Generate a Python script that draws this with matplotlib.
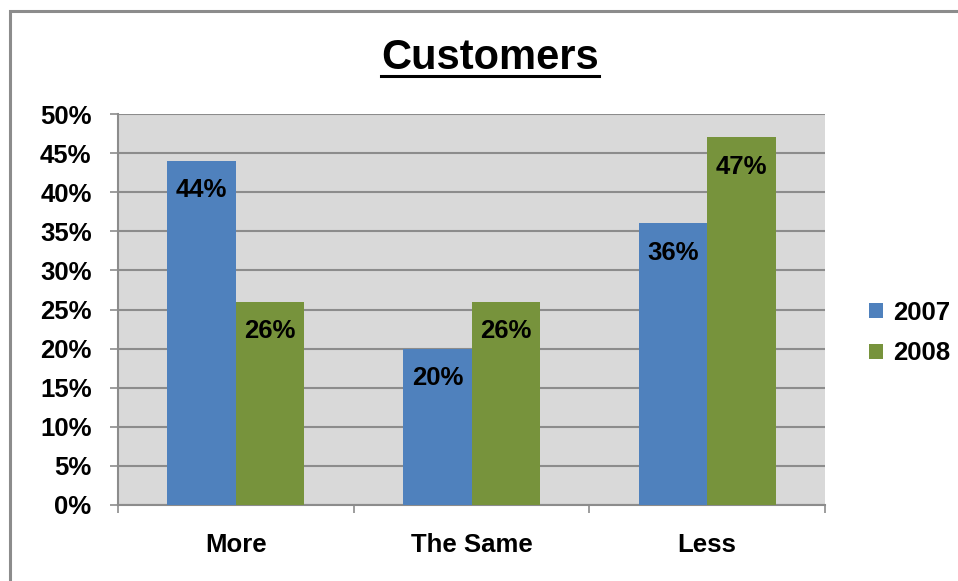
import matplotlib
matplotlib.use("Agg")
import matplotlib.pyplot as plt
import numpy as np
from matplotlib.lines import Line2D
from matplotlib.patches import Rectangle

categories = ["More", "The Same", "Less"]
series_names = ["2007", "2008"]
values_2007 = [44, 20, 36]
values_2008 = [26, 26, 47]
yticks = [0, 5, 10, 15, 20, 25, 30, 35, 40, 45, 50]
title = "Customers"

colors = ["#4F81BD", "#77933C"]
W, H = 958, 581
FS = 18.5
fig = plt.figure(figsize=(W / 100, H / 100), dpi=100)
fig.patch.set_facecolor("white")
plt.rcParams["font.family"] = ["Liberation Sans", "DejaVu Sans"]

# outer border
fig.add_artist(Rectangle((9.5 / W, -0.1), 1.2, (1 - 10.5 / H) + 0.1, transform=fig.transFigure,
                         fill=False, edgecolor="#8c8c8c", linewidth=2.2))

ax = fig.add_axes([118 / W, 1 - 505 / H, (825 - 118) / W, (505 - 114) / H])
ax.set_facecolor("#D9D9D9")

x = np.arange(len(categories))
bw = 0.29
b1 = ax.bar(x - bw / 2, values_2007, bw, color=colors[0], label=series_names[0], zorder=3)
b2 = ax.bar(x + bw / 2, values_2008, bw, color=colors[1], label=series_names[1], zorder=3)

for bars, vals in ((b1, values_2007), (b2, values_2008)):
    for rect, v in zip(bars, vals):
        ax.annotate(f"{v}%", (rect.get_x() + rect.get_width() / 2, v),
                    xytext=(0, -21), textcoords="offset points",
                    ha="center", va="center", fontsize=FS, fontweight="bold", zorder=4)

ax.set_xlim(-0.5, 2.5)
ax.set_ylim(0, 50)
ax.set_yticks(yticks)
ax.set_yticklabels([f"{t}%" for t in yticks], fontsize=FS, fontweight="bold")
ax.yaxis.grid(True, color="#8c8c8c", linewidth=1.5, zorder=1)
ax.set_axisbelow(True)

ax.set_xticks([-0.5, 0.5, 1.5, 2.5])
ax.set_xticklabels([])
ax.set_xticks(x, minor=True)
ax.set_xticklabels(categories, minor=True, fontsize=FS, fontweight="bold")
ax.tick_params(axis="x", which="minor", length=0, pad=20)
ax.tick_params(axis="x", which="major", length=6, width=1.2, color="#8c8c8c", direction="out")
ax.tick_params(axis="y", length=6, width=1.2, color="#8c8c8c", pad=13)

for s in ("top", "right"):
    ax.spines[s].set_visible(False)
for s in ("left", "bottom"):
    ax.spines[s].set_color("#8c8c8c")
    ax.spines[s].set_linewidth(1.5)

leg = fig.legend(handles=[b1, b2], labels=series_names, loc="center left",
                 bbox_to_anchor=(846 / W, 1 - 333 / H), frameon=False,
                 prop={"size": FS, "weight": "bold"}, handlelength=0.55, handleheight=0.55,
                 handletextpad=0.4, labelspacing=0.65)

t = fig.text(490 / W, 1 - 69 / H, title, ha="center", va="baseline",
             fontsize=30, fontweight="bold")
fig.canvas.draw()
bb = t.get_window_extent()
uy = 1 - 75.5 / H
fig.add_artist(Line2D([bb.x0 / W, bb.x1 / W], [uy, uy], transform=fig.transFigure,
                      color="black", linewidth=2.2))

fig.savefig("out.png", dpi=100)
